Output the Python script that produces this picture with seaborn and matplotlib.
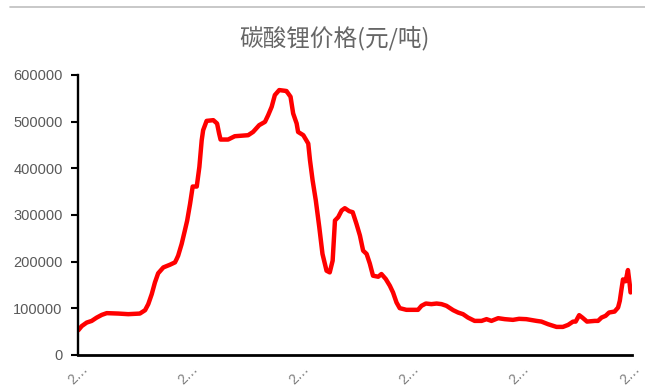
import matplotlib
matplotlib.use("Agg")
import matplotlib.pyplot as plt
from matplotlib.lines import Line2D
import seaborn as sns
import pandas as pd

# Lithium carbonate spot price, days counted from the first observation
day = [1, 13, 30, 47, 64, 82, 99, 139, 173, 213, 231, 242, 254, 265, 276, 294,
       317, 334, 340, 345, 357, 368, 376, 386, 395, 409, 418, 426, 431, 443,
       466, 479, 486, 491, 517, 540, 586, 603, 624, 644, 655, 667, 678, 693,
       712, 718, 732, 741, 753, 758, 776, 793, 799, 808, 819, 831, 842, 856,
       867, 877, 885, 896, 908, 919, 934, 946, 959, 971, 982, 994, 1005, 1016,
       1034, 1045, 1060, 1074, 1085, 1097, 1108, 1131, 1171, 1183, 1198, 1217,
       1235, 1252, 1269, 1292, 1309, 1326, 1343, 1366, 1390, 1407, 1424, 1447,
       1470, 1498, 1519, 1544, 1579, 1596, 1619, 1648, 1670, 1688, 1705, 1714,
       1726, 1737, 1753, 1780, 1791, 1803, 1817, 1829, 1848, 1860, 1866, 1871,
       1877, 1886, 1894, 1900, 1903]
price = [53000, 62000, 69500, 73000, 80000, 86000, 89700, 88800, 87500, 88800,
         96000, 109000, 130500, 155500, 175000, 187700, 193500, 198500, 206000,
         213000, 238000, 266700, 288000, 324000, 361000, 361000, 403000, 460000,
         481700, 501700, 503200, 496000, 474600, 461700, 461700, 468800, 471000,
         478000, 492500, 499600, 514000, 531800, 557000, 567700, 566200, 565600,
         553400, 517600, 496100, 478000, 471000, 453100, 417200, 374200, 331200,
         273800, 216600, 180600, 177000, 202100, 288200, 295300, 309700, 314600,
         308200, 306000, 281100, 255900, 223600, 216600, 196000, 169900, 167700,
         173500, 162800, 148400, 134000, 112500, 100400, 96800, 96800, 105400,
         110300, 109000, 110300, 109000, 105400, 96100, 91000, 87500, 80200,
         73100, 73100, 76800, 73100, 78900, 76800, 75300, 77500, 76800, 73100,
         71600, 66000, 60200, 60200, 64500, 71600, 71600, 85400, 80200, 71600,
         73100, 73100, 80200, 83900, 91000, 93100, 101700, 116100, 137600,
         162000, 158000, 182000, 152000, 134000]

x_ticks = [0, 380, 760, 1140, 1520, 1900]
x_tick_labels = ["2…", "2…", "2…", "2…", "2…", "2…"]
y_ticks = [0, 100000, 200000, 300000, 400000, 500000, 600000]
y_tick_labels = ["0", "100000", "200000", "300000", "400000", "500000", "600000"]
title = "碳酸锂价格(元/吨)"

df = pd.DataFrame({"day": day, "price": price})

sns.set_theme(style="white")
plt.rcParams["font.family"] = ["Liberation Sans", "Noto Sans CJK SC", "DejaVu Sans"]

fig = plt.figure(figsize=(6.45, 3.89), dpi=100)
ax = fig.add_axes([78 / 645, 34 / 389, 554 / 645, 280 / 389])

sns.lineplot(data=df, x="day", y="price", ax=ax, color="#ff0000",
             linewidth=3.2, solid_joinstyle="round", solid_capstyle="round")

ax.set_xlim(0, 1908)
ax.set_ylim(0, 600000)
ax.set_xticks(x_ticks)
ax.set_xticklabels(x_tick_labels, rotation=45, ha="center", va="top",
                   fontsize=10, color="#7f7f7f")
ax.set_yticks(y_ticks)
ax.set_yticklabels(y_tick_labels, fontsize=10.5, color="#595959")
ax.tick_params(axis="x", length=0, pad=5)
ax.tick_params(axis="y", length=5, width=1.5, color="black", pad=6, left=True)
ax.set_xlabel("")
ax.set_ylabel("")

for side in ("top", "right"):
    ax.spines[side].set_visible(False)
ax.spines["left"].set_color("black")
ax.spines["left"].set_linewidth(1.7)
ax.spines["bottom"].set_color("black")
ax.spines["bottom"].set_linewidth(2.0)
ax.grid(False)

fig.text(334 / 645, 1 - 38 / 389, title, ha="center", va="center",
         fontsize=17, color="#666666", family=["Noto Sans CJK SC", "DejaVu Sans"],
         fontweight="light")

# thin rule across the top of the figure
fig.add_artist(Line2D([10 / 645, 1.0], [1 - 6.5 / 389, 1 - 6.5 / 389],
                      transform=fig.transFigure, color="#bfbfbf", linewidth=1.2))

fig.savefig("out.png", dpi=100, facecolor="white")
